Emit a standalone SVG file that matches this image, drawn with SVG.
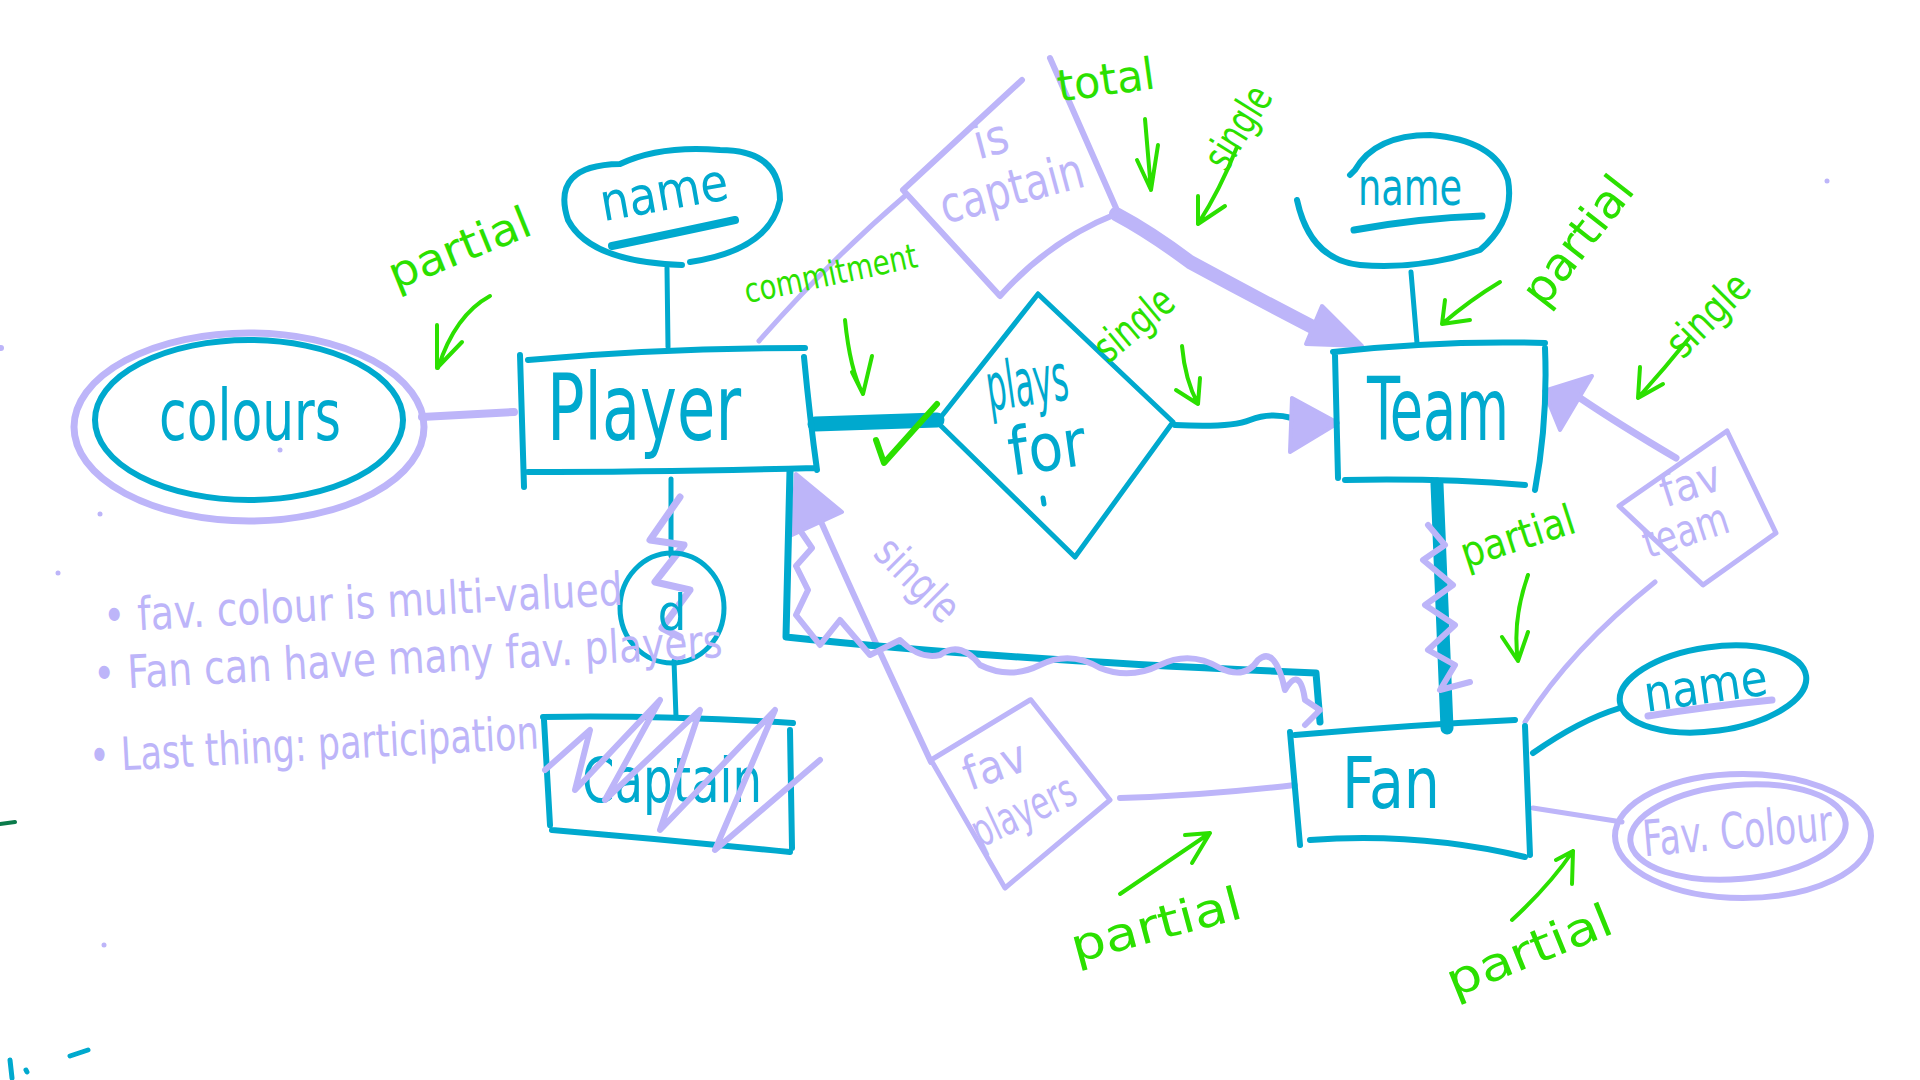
<svg xmlns="http://www.w3.org/2000/svg" width="1920" height="1080" viewBox="0 0 1920 1080">
<style>
.t{fill:none;stroke:#00A9CE;stroke-width:5;stroke-linecap:round;stroke-linejoin:round}
.tt{fill:none;stroke:#00A9CE;stroke-width:12;stroke-linecap:round}
.l{fill:none;stroke:#BDB5F9;stroke-width:5;stroke-linecap:round;stroke-linejoin:round}
.lf{fill:#BDB5F9;stroke:#BDB5F9;stroke-width:4;stroke-linejoin:round}
.g{fill:none;stroke:#2BE000;stroke-width:4;stroke-linecap:round;stroke-linejoin:round}
.tx{font-family:"DejaVu Sans Condensed","DejaVu Sans",sans-serif;text-anchor:middle}
.teal{fill:#00A9CE}
.lav{fill:#BDB5F9}
.grn{fill:#2BE000}
</style>
<rect width="1920" height="1080" fill="#FFFFFF"/>

<g id="connectors">
  <path class="l" d="M422,417 L514,412" style="stroke-width:8"/>
  <path class="t" d="M667,268 L668,347"/>
  <path class="l" d="M759,341 Q830,260 906,195"/>
  <path class="tt" d="M815,424 L937,420" style="stroke-width:15"/>
  <path class="t" d="M1175,425 Q1230,428 1250,420 Q1270,412 1292,418" style="stroke-width:6"/>
  <polygon class="lf" points="1338,423 1292,398 1290,452"/>
  <path class="l" d="M1116,214 Q1150,232 1190,262 Q1260,300 1330,336" style="stroke-width:14"/>
  <polygon class="lf" points="1362,346 1322,306 1306,344"/>
  <path class="t" d="M1411,272 L1417,343"/>
  <path class="tt" d="M1437,484 L1447,728" style="stroke-width:13"/>
  <path class="l" d="M1428,525 L1445,545 L1423,560 L1453,585 L1425,605 L1455,625 L1428,650 L1455,665 L1440,690 L1470,682" style="stroke-width:6"/>
  <path class="t" d="M1533,753 Q1580,720 1620,708" style="stroke-width:6"/>
  <path class="l" d="M1533,808 L1622,822"/>
  <path class="l" d="M1676,458 Q1620,425 1580,398" style="stroke-width:7"/>
  <polygon class="lf" points="1544,391 1592,376 1560,430"/>
  <path class="l" d="M1655,582 Q1570,650 1525,722"/>
  <path class="l" d="M1120,798 Q1200,796 1295,785" style="stroke-width:6"/>
  <path class="l" d="M931,762 Q860,610 818,515" style="stroke-width:6"/>
  <polygon class="lf" points="796,474 842,512 792,535"/>
  <path class="t" d="M790,471 L786,637 Q1000,660 1316,673 L1320,722" style="stroke-width:7"/>
  <path class="l" d="M797,526 L812,548 L796,566 L808,590 L796,615 L820,645 L840,620 L870,655 L900,640 Q920,660 940,655 Q960,640 980,665 Q1010,680 1040,665 Q1070,650 1100,668 Q1130,680 1160,665 Q1190,650 1220,668 Q1245,680 1258,660 Q1275,645 1285,690 Q1300,665 1305,700 L1320,710 L1305,725" style="stroke-width:6"/>
  <path class="t" d="M671,479 L671,556"/>
  <path class="t" d="M674,661 L676,717"/>
  <path class="l" d="M680,497 L650,540 L684,545 L655,582 L690,590 L662,628 L680,637" style="stroke-width:7"/>
</g>

<g id="colours">
  <ellipse cx="249" cy="427" rx="175" ry="94" class="l" style="stroke-width:7"/>
  <ellipse cx="249" cy="420" rx="154" ry="80" class="t" style="stroke-width:6"/>
  <text x="250" y="440" class="tx teal" font-size="72" textLength="182" lengthAdjust="spacingAndGlyphs">colours</text>
</g>

<g id="player">
  <path class="t" d="M520,355 L524,487 M528,360 Q660,348 805,348 M804,357 Q810,420 817,470 M528,472 Q660,472 815,468" style="stroke-width:6"/>
  <text x="644" y="440" class="tx teal" font-size="92" textLength="194" lengthAdjust="spacingAndGlyphs">Player</text>
</g>

<g id="player-name">
  <path class="t" d="M682,265 Q590,262 568,220 Q550,165 620,164 Q660,145 720,150 Q780,150 780,200 Q770,250 690,262" style="stroke-width:6"/>
  <text x="667" y="210" class="tx teal" font-size="52" textLength="129" lengthAdjust="spacingAndGlyphs" transform="rotate(-10 667 210)">name</text>
  <path class="t" d="M612,246 Q680,232 735,220" style="stroke-width:8"/>
</g>

<g id="is-captain">
  <path class="l" d="M1050,58 L1116,208 M1022,80 L903,190 L1000,296 Q1050,240 1116,214" style="stroke-width:6"/>
  <text x="995" y="155" class="tx lav" font-size="48" transform="rotate(-15 995 155)">is</text>
  <text x="1016" y="205" class="tx lav" font-size="50" textLength="147" lengthAdjust="spacingAndGlyphs" transform="rotate(-15 1016 205)">captain</text>
</g>

<g id="plays-for">
  <path class="t" d="M1038,294 L937,422 L1075,557 L1173,422 L1038,294" style="stroke-width:5"/>
  <text x="1030" y="405" class="tx teal" font-size="66" textLength="82" lengthAdjust="spacingAndGlyphs" transform="rotate(-8 1030 405)">plays</text>
  <text x="1050" y="470" class="tx teal" font-size="66" textLength="78" lengthAdjust="spacingAndGlyphs" transform="rotate(-8 1050 470)">for</text>
  <path class="t" d="M1043,498 L1044,504"/>
</g>

<g id="team">
  <path class="t" d="M1335,355 L1338,478 M1333,352 Q1440,340 1545,343 M1545,348 Q1548,420 1535,490 M1345,480 Q1440,478 1525,485" style="stroke-width:6"/>
  <text x="1438" y="440" class="tx teal" font-size="88" textLength="142" lengthAdjust="spacingAndGlyphs">Team</text>
</g>

<g id="team-name">
  <path class="t" d="M1297,200 Q1310,260 1360,265 Q1420,270 1480,250 Q1515,220 1508,180 Q1495,140 1430,135 Q1375,135 1355,170 L1350,175" style="stroke-width:6"/>
  <text x="1410" y="205" class="tx teal" font-size="52" textLength="104" lengthAdjust="spacingAndGlyphs">name</text>
  <path class="t" d="M1354,230 Q1420,218 1482,216" style="stroke-width:7"/>
</g>

<g id="fan">
  <path class="t" d="M1290,732 L1300,845 M1295,735 Q1410,725 1515,720 M1525,726 Q1528,800 1530,855 M1310,840 Q1420,832 1525,857" style="stroke-width:6"/>
  <text x="1391" y="808" class="tx teal" font-size="72" textLength="98" lengthAdjust="spacingAndGlyphs">Fan</text>
</g>

<g id="fan-name">
  <ellipse cx="1713" cy="689" rx="94" ry="42" class="t" style="stroke-width:6" transform="rotate(-8 1713 689)"/>
  <text x="1708" y="703" class="tx teal" font-size="50" textLength="124" lengthAdjust="spacingAndGlyphs" transform="rotate(-8 1708 703)">name</text>
  <path class="l" d="M1648,716 Q1710,706 1772,700" style="stroke-width:7"/>
</g>

<g id="fav-colour">
  <ellipse cx="1743" cy="836" rx="128" ry="62" class="l" style="stroke-width:6"/>
  <ellipse cx="1738" cy="832" rx="108" ry="47" class="l" style="stroke-width:6" transform="rotate(-5 1738 832)"/>
  <text x="1739" y="848" class="tx lav" font-size="50" textLength="190" lengthAdjust="spacingAndGlyphs" transform="rotate(-5 1739 848)">Fav. Colour</text>
</g>

<g id="fav-team">
  <path class="l" d="M1727,431 L1776,533 L1703,585 L1619,506 L1727,431"/>
  <text x="1695" y="498" class="tx lav" font-size="44" transform="rotate(-18 1695 498)">fav</text>
  <text x="1690" y="545" class="tx lav" font-size="44" textLength="88" lengthAdjust="spacingAndGlyphs" transform="rotate(-18 1690 545)">team</text>
</g>

<g id="fav-players">
  <path class="l" d="M1031,700 L1110,800 L1005,888 L931,760 L1030,700"/>
  <text x="1000" y="780" class="tx lav" font-size="46" transform="rotate(-20 1000 780)">fav</text>
  <text x="1030" y="825" class="tx lav" font-size="46" textLength="110" lengthAdjust="spacingAndGlyphs" transform="rotate(-25 1030 825)">players</text>
</g>

<g id="disjoint">
  <ellipse cx="672" cy="608" rx="52" ry="55" class="t"/>
  <text x="672" y="630" class="tx teal" font-size="50">d</text>
</g>

<g id="captain">
  <path class="t" d="M544,720 L550,825 M543,717 Q660,715 793,723 M790,730 L792,848 M552,830 Q670,840 790,852" style="stroke-width:6"/>
  <text x="672" y="802" class="tx teal" font-size="62" textLength="180" lengthAdjust="spacingAndGlyphs">Captain</text>
  <path class="l" d="M545,770 L590,730 L575,790 L660,700 L605,800 L700,710 L660,830 L775,710 L715,850 L820,760" style="stroke-width:6"/>
</g>

<g id="notes">
  <text x="104" y="632" class="tx lav" font-size="46" style="text-anchor:start" textLength="520" lengthAdjust="spacingAndGlyphs" transform="rotate(-3 104 632)">• fav. colour is multi-valued</text>
  <text x="94" y="690" class="tx lav" font-size="46" style="text-anchor:start" textLength="630" lengthAdjust="spacingAndGlyphs" transform="rotate(-3 94 690)">• Fan can have many fav. players</text>
  <text x="90" y="772" class="tx lav" font-size="46" style="text-anchor:start" textLength="450" lengthAdjust="spacingAndGlyphs" transform="rotate(-3 90 772)">•  Last thing: participation</text>
</g>

<g id="annotations">
  <text x="465" y="262" class="tx grn" font-size="44" textLength="150" lengthAdjust="spacingAndGlyphs" transform="rotate(-22 465 262)">partial</text>
  <path class="g" d="M490,296 Q455,315 438,368 M437,325 L437,368 L462,342"/>
  <text x="833" y="285" class="tx grn" font-size="34" textLength="176" lengthAdjust="spacingAndGlyphs" transform="rotate(-12 833 285)">commitment</text>
  <path class="g" d="M845,320 Q850,370 863,394 M852,372 L863,394 L872,356"/>
  <path class="g" d="M876,440 L884,463 L937,404" style="stroke-width:6"/>
  <text x="1108" y="95" class="tx grn" font-size="44" textLength="98" lengthAdjust="spacingAndGlyphs" transform="rotate(-8 1108 95)">total</text>
  <path class="g" d="M1145,119 L1151,190 M1137,160 L1151,190 L1158,145"/>
  <text x="1250" y="135" class="tx grn" font-size="42" textLength="90" lengthAdjust="spacingAndGlyphs" transform="rotate(-58 1250 135)">single</text>
  <path class="g" d="M1237,147 Q1220,190 1198,224 M1198,196 L1198,224 L1225,206"/>
  <text x="1143" y="335" class="tx grn" font-size="42" textLength="90" lengthAdjust="spacingAndGlyphs" transform="rotate(-40 1143 335)">single</text>
  <path class="g" d="M1182,346 Q1185,380 1198,404 M1176,390 L1198,404 L1200,378"/>
  <text x="1590" y="250" class="tx grn" font-size="46" textLength="150" lengthAdjust="spacingAndGlyphs" transform="rotate(-52 1590 250)">partial</text>
  <path class="g" d="M1500,282 Q1470,300 1442,324 M1445,300 L1442,324 L1470,320"/>
  <text x="1718" y="325" class="tx grn" font-size="42" textLength="100" lengthAdjust="spacingAndGlyphs" transform="rotate(-45 1718 325)">single</text>
  <path class="g" d="M1690,337 Q1665,368 1638,398 M1640,367 L1638,398 L1663,384"/>
  <text x="1522" y="550" class="tx grn" font-size="42" textLength="118" lengthAdjust="spacingAndGlyphs" transform="rotate(-18 1522 550)">partial</text>
  <path class="g" d="M1528,575 Q1512,620 1518,661 M1502,637 L1518,661 L1528,632"/>
  <text x="1160" y="940" class="tx grn" font-size="46" textLength="175" lengthAdjust="spacingAndGlyphs" transform="rotate(-15 1160 940)">partial</text>
  <path class="g" d="M1120,894 Q1170,860 1210,833 M1185,835 L1210,833 L1192,863"/>
  <text x="1535" y="965" class="tx grn" font-size="46" textLength="175" lengthAdjust="spacingAndGlyphs" transform="rotate(-22 1535 965)">partial</text>
  <path class="g" d="M1512,920 Q1550,885 1573,851 M1556,860 L1573,851 L1572,884"/>
  <text x="907" y="590" class="tx lav" font-size="44" textLength="100" lengthAdjust="spacingAndGlyphs" transform="rotate(45 907 590)">single</text>
</g>

<g id="marks">
  <path d="M0,824 L15,822" stroke="#0A7A4A" stroke-width="4" fill="none" stroke-linecap="round"/>
  <path class="t" d="M10,1060 L12,1078 M26,1070 L27,1072 M70,1056 L88,1050"/>
  <circle cx="100" cy="514" r="2.5" class="lav"/>
  <circle cx="58" cy="573" r="2.5" class="lav"/>
  <circle cx="104" cy="945" r="2.5" class="lav"/>
  <circle cx="1827" cy="181" r="2.5" class="lav"/>
  <circle cx="1" cy="348" r="3" class="lav"/>
  <circle cx="280" cy="450" r="2.5" class="lav"/>
</g>
</svg>
